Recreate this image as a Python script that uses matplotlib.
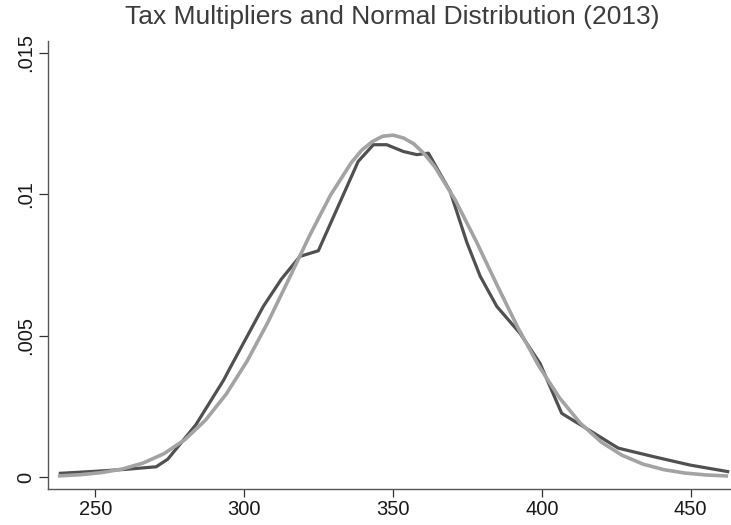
import numpy as np
import matplotlib.pyplot as plt

# empirical density of tax multipliers (dark line)
dens_x = [238.2, 250, 260.2, 270.4, 274.3, 283.7, 293.1, 295.2, 306.4, 312.5,
          318.7, 324.9, 338.3, 343.4, 347.9, 353.5, 358.0, 361.9, 369.2, 374.8,
          379.3, 384.9, 392.7, 399.4, 406.7, 414.0, 425.7, 437.5, 449.9, 462.5]
dens_y = [0.00013, 0.00020, 0.00027, 0.00036, 0.00063, 0.00184, 0.00343, 0.00385,
          0.00603, 0.00700, 0.00780, 0.00800, 0.01116, 0.01175, 0.01175, 0.01151,
          0.01140, 0.01145, 0.01010, 0.00830, 0.00710, 0.00603, 0.00508, 0.00402,
          0.00225, 0.00178, 0.00102, 0.00072, 0.00042, 0.00019]

# normal distribution curve (light line)
norm_x = [238, 245, 252, 259, 266, 273, 280, 287, 294, 301, 308, 315, 322, 329,
          336, 339.5, 343, 346.5, 350, 353.5, 357, 360.5, 364, 371, 378, 385, 392,
          399, 406, 413, 420, 427, 434, 441, 448, 455, 462]
norm_y = [0.000040, 0.000080, 0.000154, 0.000281, 0.000492, 0.000823, 0.001316,
          0.002012, 0.002939, 0.004105, 0.005482, 0.007000, 0.008543, 0.009968,
          0.011118, 0.011560, 0.011857, 0.012050, 0.012089, 0.011990, 0.011781,
          0.011430, 0.010977, 0.009778, 0.008326, 0.006779, 0.005275, 0.003925,
          0.002792, 0.001898, 0.001234, 0.000767, 0.000456, 0.000259, 0.000140,
          0.000073, 0.000036]

xticks = [250, 300, 350, 400, 450]
yticks = [0, 0.005, 0.01, 0.015]
ylabels = ['0', '.005', '.01', '.015']

plt.rcParams['font.family'] = ['Liberation Sans', 'DejaVu Sans']

fig = plt.figure(figsize=(7.31, 5.25), dpi=100)
ax = fig.add_axes([0.0663, 0.0686, 0.9337, 0.8534])

ax.plot(dens_x, dens_y, '-', c='#505050', lw=2.3, solid_joinstyle='round', zorder=2)
ax.plot(norm_x, norm_y, '-', c='#a3a3a3', lw=2.6, solid_joinstyle='round', zorder=3)

ax.set_xlim(234.2, 463.6)
ax.set_ylim(-0.000425, 0.01542)
ax.set_xticks(xticks)
ax.set_yticks(yticks)
ax.set_yticklabels(ylabels, rotation=90, va='center')

for side in ['top', 'right']:
    ax.spines[side].set_visible(False)
for side in ['left', 'bottom']:
    ax.spines[side].set_color('#555555')
    ax.spines[side].set_linewidth(1.0)

ax.tick_params(axis='x', length=5.5, width=0.9, color='#333333', pad=2.5,
               labelsize=14.5, labelcolor='#1a1a1a')
ax.tick_params(axis='y', length=6.5, width=0.9, color='#333333', pad=3,
               labelsize=14.5, labelcolor='#1a1a1a')

fig.suptitle('Tax Multipliers and Normal Distribution (2013)', x=0.536, y=0.99,
             fontsize=19, color='#3c3c3c', va='top')

plt.savefig('out.png', dpi=100)
